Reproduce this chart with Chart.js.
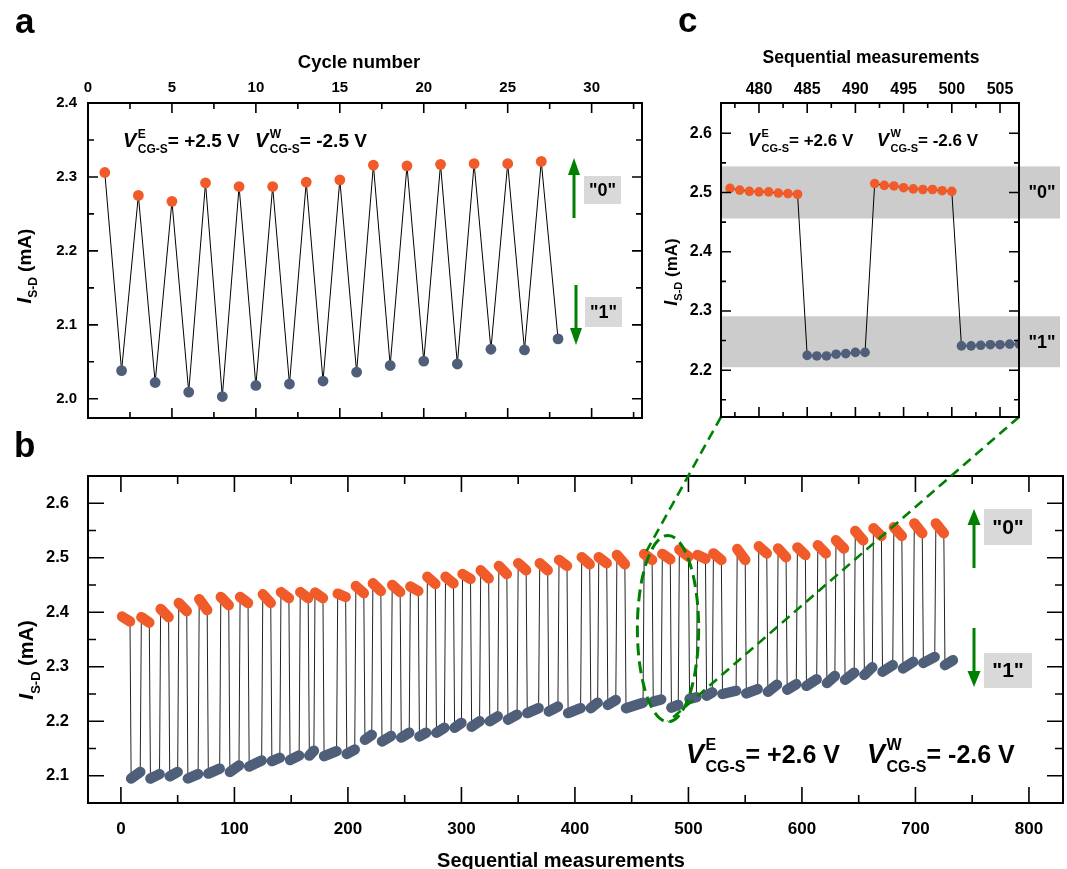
<!DOCTYPE html>
<html>
<head>
<meta charset="utf-8">
<script src="https://cdn.jsdelivr.net/npm/chart.js@4.4.0/dist/chart.umd.min.js"></script>
<style>
  html, body { margin: 0; padding: 0; background: #fff; }
  #wrap { position: relative; width: 1067px; height: 869px; }
  canvas { position: absolute; }
</style>
</head>
<body>
<div id="wrap">
  <canvas id="chartB" width="1067" height="869" style="left:0;top:0"></canvas>
  <canvas id="chartA" width="660" height="440" style="left:0;top:0"></canvas>
  <canvas id="chartC" width="422" height="440" style="left:645px;top:0"></canvas>
</div>
<script>
// ---- panel a : one point per half cycle ("0" on odd, "1" on even) ----
var cycleNo = [1, 2, 3, 4, 5, 6, 7, 8, 9, 10, 11, 12, 13, 14, 15, 16, 17, 18, 19, 20, 21, 22, 23, 24, 25, 26, 27, 28];
var cycleCurrent = [2.306, 2.038, 2.275, 2.022, 2.267, 2.009, 2.292, 2.003, 2.287, 2.018, 2.287, 2.020, 2.293, 2.024,
  2.296, 2.036, 2.316, 2.045, 2.315, 2.051, 2.317, 2.047, 2.318, 2.067, 2.318, 2.066, 2.321, 2.081];
var cycleTicks = [0, 5, 10, 15, 20, 25, 30];
var cycleYTicks = [2.0, 2.1, 2.2, 2.3, 2.4];

// ---- panel c : zoom of sequential measurements 477..507 ----
var zoomSeq = [477, 478, 479, 480, 481, 482, 483, 484, 485, 486, 487, 488, 489, 490, 491,
  492, 493, 494, 495, 496, 497, 498, 499, 500, 501, 502, 503, 504, 505, 506, 507];
var zoomCurrent = [2.507, 2.504, 2.502, 2.501, 2.501, 2.499, 2.498, 2.497,
  2.225, 2.224, 2.224, 2.227, 2.228, 2.230, 2.230,
  2.515, 2.512, 2.511, 2.508, 2.506, 2.505, 2.505, 2.503, 2.502,
  2.241, 2.241, 2.242, 2.243, 2.243, 2.244, 2.244];
var zoomTicks = [480, 485, 490, 495, 500, 505];
var zoomYTicks = [2.2, 2.3, 2.4, 2.5, 2.6];
var band0 = [2.456, 2.544];
var band1 = [2.205, 2.291];

// ---- panel b : each block of "0" reads followed by a block of "1" reads ----
var hiStart = [1, 18, 35, 51, 69, 88, 105, 125, 141, 158, 171, 191, 207, 222, 239, 255, 270, 286, 301, 317, 333, 350,
  369, 386, 406, 421, 437, 461, 477, 492, 508, 522, 543, 562, 579, 596, 614, 630, 647, 663, 681, 699, 718];
var loStart = [9, 26, 43, 59, 77, 96, 113, 133, 149, 166, 179, 199, 215, 230, 247, 263, 278, 294, 309, 325, 341, 358,
  377, 394, 414, 429, 445, 469, 485, 501, 516, 530, 551, 570, 587, 604, 622, 638, 655, 671, 689, 707, 726];
var hiFirst = [2.392, 2.391, 2.406, 2.417, 2.424, 2.428, 2.428, 2.433, 2.437, 2.437, 2.436, 2.434, 2.448, 2.453, 2.450,
  2.447, 2.465, 2.465, 2.470, 2.477, 2.485, 2.490, 2.490, 2.496, 2.501, 2.501, 2.505, 2.507, 2.507, 2.515, 2.505,
  2.508, 2.516, 2.521, 2.517, 2.519, 2.523, 2.532, 2.549, 2.554, 2.556, 2.563, 2.563];
var hiLast = [2.383, 2.381, 2.391, 2.402, 2.404, 2.413, 2.417, 2.417, 2.426, 2.426, 2.426, 2.428, 2.435, 2.439, 2.437,
  2.439, 2.452, 2.453, 2.461, 2.462, 2.470, 2.477, 2.477, 2.485, 2.488, 2.490, 2.488, 2.496, 2.497, 2.502, 2.498,
  2.496, 2.496, 2.508, 2.501, 2.505, 2.508, 2.517, 2.532, 2.540, 2.540, 2.545, 2.545];
var loFirst = [2.095, 2.095, 2.099, 2.095, 2.104, 2.107, 2.117, 2.127, 2.129, 2.137, 2.136, 2.140, 2.166, 2.163, 2.170,
  2.172, 2.179, 2.188, 2.190, 2.200, 2.203, 2.215, 2.218, 2.215, 2.224, 2.230, 2.224, 2.236, 2.225, 2.241, 2.247,
  2.250, 2.251, 2.254, 2.258, 2.265, 2.270, 2.276, 2.285, 2.291, 2.297, 2.307, 2.303];
var loLast = [2.107, 2.103, 2.107, 2.103, 2.113, 2.119, 2.128, 2.133, 2.137, 2.146, 2.145, 2.148, 2.175, 2.173, 2.179,
  2.179, 2.188, 2.197, 2.200, 2.209, 2.212, 2.224, 2.227, 2.224, 2.234, 2.239, 2.234, 2.240, 2.230, 2.244, 2.253,
  2.256, 2.259, 2.267, 2.268, 2.277, 2.283, 2.289, 2.299, 2.303, 2.309, 2.318, 2.312];
var seqTicks = [0, 100, 200, 300, 400, 500, 600, 700, 800];
var seqYTicks = [2.1, 2.2, 2.3, 2.4, 2.5, 2.6];
// region of panel b that is blown up in panel c
var zoomRegion = { x: 482, y: 2.37, rx: 27, ry: 0.171 };
var linkEnds = [{ x: 463, y: 2.512 }, { x: 482, y: 2.199 }];

var FF = "'Liberation Sans', Arial, sans-serif";
var ORANGE = '#f15a29';
var BLUE = '#4f5e79';
var GREEN = 'rgb(0,128,0)';
Chart.defaults.font.family = FF;
Chart.defaults.font.weight = 'bold';
Chart.defaults.color = '#000';

// frame + inward ticks on all four sides
function frameTicks(o) {
  return {
    id: 'frame',
    afterDatasetsDraw: function (chart) {
      var ctx = chart.ctx, a = chart.chartArea, sx = chart.scales.x, sy = chart.scales.y;
      ctx.save();
      ctx.strokeStyle = '#000';
      ctx.lineWidth = 1.6;
      ctx.beginPath();
      for (var v = o.x0; v <= o.x1 + 1e-9; v += o.xStep) {
        var major = Math.abs(v / o.xMajor - Math.round(v / o.xMajor)) < 1e-6;
        var len = major ? o.major : o.minor;
        var px = sx.getPixelForValue(v);
        ctx.moveTo(px, a.top); ctx.lineTo(px, a.top + len);
        ctx.moveTo(px, a.bottom); ctx.lineTo(px, a.bottom - len);
      }
      for (var w = o.y0; w <= o.y1 + 1e-9; w += o.yStep) {
        var majorY = Math.abs(w / o.yMajor - Math.round(w / o.yMajor)) < 1e-6;
        var lenY = majorY ? o.major : o.minor;
        var py = sy.getPixelForValue(w);
        ctx.moveTo(a.left, py); ctx.lineTo(a.left + lenY, py);
        ctx.moveTo(a.right, py); ctx.lineTo(a.right - lenY, py);
      }
      ctx.stroke();
      ctx.lineWidth = 2;
      ctx.strokeRect(a.left, a.top, a.right - a.left, a.bottom - a.top);
      ctx.restore();
    }
  };
}

// V^E_CG-S = ... style label
function drawV(ctx, x, base, sup, rest, s) {
  ctx.save();
  ctx.fillStyle = '#000';
  ctx.textAlign = 'left';
  ctx.textBaseline = 'alphabetic';
  ctx.font = 'italic bold ' + s.v + 'px ' + FF;
  ctx.fillText('V', x, base);
  var sx = x + ctx.measureText('V').width + s.gap;
  ctx.font = 'bold ' + s.small + 'px ' + FF;
  ctx.fillText(sup, sx, base - s.up);
  ctx.fillText('CG-S', sx, base + s.down);
  var after = sx + ctx.measureText('CG-S').width;
  ctx.font = 'bold ' + s.rest + 'px ' + FF;
  ctx.fillText(rest, after, base);
  ctx.restore();
}

// rotated I_S-D (mA) title
function drawIsd(ctx, bx, cy, s) {
  ctx.save();
  ctx.translate(bx, cy);
  ctx.rotate(-Math.PI / 2);
  ctx.fillStyle = '#000';
  ctx.textBaseline = 'alphabetic';
  ctx.textAlign = 'left';
  ctx.font = 'italic bold ' + s.i + 'px ' + FF;
  var wI = ctx.measureText('I').width;
  ctx.font = 'bold ' + s.small + 'px ' + FF;
  var wS = ctx.measureText('S-D').width;
  ctx.font = 'bold ' + s.rest + 'px ' + FF;
  var wR = ctx.measureText(' (mA)').width;
  var x = -(wI + wS + wR) / 2;
  ctx.font = 'italic bold ' + s.i + 'px ' + FF;
  ctx.fillText('I', x, 0);
  ctx.font = 'bold ' + s.small + 'px ' + FF;
  ctx.fillText('S-D', x + wI, s.down);
  ctx.font = 'bold ' + s.rest + 'px ' + FF;
  ctx.fillText(' (mA)', x + wI + wS, 0);
  ctx.restore();
}

function plainText(ctx, txt, x, y, size, align) {
  ctx.save();
  ctx.fillStyle = '#000';
  ctx.font = 'bold ' + size + 'px ' + FF;
  ctx.textAlign = align || 'center';
  ctx.textBaseline = 'alphabetic';
  ctx.fillText(txt, x, y);
  ctx.restore();
}

function arrow(ctx, x, tail, tip, head, half) {
  var dir = tip > tail ? 1 : -1;
  ctx.save();
  ctx.strokeStyle = GREEN;
  ctx.fillStyle = GREEN;
  ctx.lineWidth = 3;
  ctx.beginPath();
  ctx.moveTo(x, tail);
  ctx.lineTo(x, tip - dir * head * 0.7);
  ctx.stroke();
  ctx.beginPath();
  ctx.moveTo(x, tip);
  ctx.lineTo(x - half, tip - dir * head);
  ctx.lineTo(x + half, tip - dir * head);
  ctx.closePath();
  ctx.fill();
  ctx.restore();
}

function stateBox(ctx, x, y, w, h, txt, size) {
  ctx.save();
  ctx.fillStyle = '#d9d9d9';
  ctx.fillRect(x, y, w, h);
  ctx.fillStyle = '#000';
  ctx.font = 'bold ' + size + 'px ' + FF;
  ctx.textAlign = 'center';
  ctx.textBaseline = 'middle';
  ctx.fillText(txt, x + w / 2, y + h / 2 + 1);
  ctx.restore();
}

function setTicks(list) {
  return function (axis) { axis.ticks = list.map(function (v) { return { value: v }; }); };
}

var noGrid = { display: false, drawTicks: false };

// ================= panel a =================
var chartA = new Chart(document.getElementById('chartA'), {
  type: 'line',
  data: {
    datasets: [{
      data: cycleNo.map(function (c, i) { return { x: c, y: cycleCurrent[i] }; }),
      borderColor: '#000',
      borderWidth: 1,
      pointRadius: 5.4,
      pointBorderWidth: 0,
      pointBackgroundColor: function (ctx) { return ctx.dataIndex % 2 === 0 ? ORANGE : BLUE; }
    }]
  },
  options: {
    responsive: false,
    animation: false,
    events: [],
    layout: { padding: { left: 0, top: 0, right: 18, bottom: 22 } },
    plugins: { legend: { display: false }, tooltip: { enabled: false } },
    scales: {
      x: {
        type: 'linear', position: 'top', min: 0, max: 33,
        grid: noGrid, border: { display: false },
        afterBuildTicks: setTicks(cycleTicks),
        afterFit: function (s) { s.height = 103; },
        ticks: { autoSkip: false, maxRotation: 0, padding: 6, font: { size: 15, weight: 'bold' },
          callback: function (v) { return String(v); } }
      },
      y: {
        type: 'linear', min: 1.974, max: 2.4,
        grid: noGrid, border: { display: false },
        afterBuildTicks: setTicks(cycleYTicks),
        afterFit: function (s) { s.width = 88; },
        ticks: { autoSkip: false, padding: 11, font: { size: 15, weight: 'bold' },
          callback: function (v) { return v.toFixed(1); } }
      }
    }
  },
  plugins: [
    frameTicks({ x0: 0, x1: 32.5, xStep: 2.5, xMajor: 5, y0: 2.0, y1: 2.4, yStep: 0.05, yMajor: 0.1, major: 10, minor: 6 }),
    {
      id: 'textA',
      afterDraw: function (chart) {
        var ctx = chart.ctx;
        plainText(ctx, 'a', 15, 33, 35, 'left');
        plainText(ctx, 'Cycle number', 359, 68, 18.5);
        drawIsd(ctx, 31, 266, { i: 20, small: 12, rest: 19, down: 6 });
        drawV(ctx, 123, 147, 'E', '= +2.5 V', { v: 20, small: 12, rest: 19, gap: 1.5, up: 9.5, down: 6 });
        drawV(ctx, 255, 147, 'W', '= -2.5 V', { v: 20, small: 12, rest: 19, gap: 1.5, up: 9.5, down: 6 });
        arrow(ctx, 574, 218, 158, 17, 6);
        arrow(ctx, 576, 285, 345, 17, 6);
        stateBox(ctx, 584, 176, 37, 28, '"0"', 18);
        stateBox(ctx, 585, 297, 37, 30, '"1"', 18);
      }
    }
  ]
});

// ================= panel c =================
var OXC = 645;
var chartC = new Chart(document.getElementById('chartC'), {
  type: 'line',
  data: {
    datasets: [{
      data: zoomSeq.map(function (n, i) { return { x: n, y: zoomCurrent[i] }; }),
      borderColor: '#000',
      borderWidth: 1,
      pointRadius: 4.8,
      pointBorderWidth: 0,
      pointBackgroundColor: function (ctx) { return zoomCurrent[ctx.dataIndex] > 2.4 ? ORANGE : BLUE; }
    }]
  },
  options: {
    responsive: false,
    animation: false,
    events: [],
    layout: { padding: { left: 0, top: 0, right: 48, bottom: 23 } },
    plugins: { legend: { display: false }, tooltip: { enabled: false } },
    scales: {
      x: {
        type: 'linear', position: 'top', min: 476.06, max: 506.97,
        grid: noGrid, border: { display: false },
        afterBuildTicks: setTicks(zoomTicks),
        afterFit: function (s) { s.height = 103; },
        ticks: { autoSkip: false, maxRotation: 0, padding: 4, font: { size: 16, weight: 'bold' },
          callback: function (v) { return String(v); } }
      },
      y: {
        type: 'linear', min: 2.121, max: 2.651,
        grid: noGrid, border: { display: false },
        afterBuildTicks: setTicks(zoomYTicks),
        afterFit: function (s) { s.width = 721 - OXC; },
        ticks: { autoSkip: false, padding: 9, font: { size: 16, weight: 'bold' },
          callback: function (v) { return v.toFixed(1); } }
      }
    }
  },
  plugins: [
    {
      id: 'bands',
      beforeDatasetsDraw: function (chart) {
        var ctx = chart.ctx, a = chart.chartArea, sy = chart.scales.y;
        ctx.save();
        ctx.fillStyle = '#cccccc';
        [band0, band1].forEach(function (b) {
          var top = sy.getPixelForValue(b[1]), bot = sy.getPixelForValue(b[0]);
          ctx.fillRect(a.left, top, a.right - a.left + 41, bot - top);
        });
        ctx.restore();
      }
    },
    frameTicks({ x0: 477.5, x1: 505, xStep: 2.5, xMajor: 5, y0: 2.15, y1: 2.6, yStep: 0.05, yMajor: 0.1, major: 10, minor: 5 }),
    {
      id: 'textC',
      afterDraw: function (chart) {
        var ctx = chart.ctx, a = chart.chartArea, sy = chart.scales.y;
        var ox = -OXC;
        plainText(ctx, 'c', 678 + ox, 32, 35, 'left');
        plainText(ctx, 'Sequential measurements', 871 + ox, 63, 17.5);
        drawIsd(ctx, 677 + ox, 272, { i: 18, small: 11, rest: 17, down: 5 });
        drawV(ctx, 748 + ox, 146, 'E', '= +2.6 V', { v: 18, small: 11, rest: 17, gap: 1.5, up: 9, down: 6 });
        drawV(ctx, 877 + ox, 146, 'W', '= -2.6 V', { v: 18, small: 11, rest: 17, gap: 1.5, up: 9, down: 6 });
        ctx.save();
        ctx.fillStyle = '#000';
        ctx.font = 'bold 18px ' + FF;
        ctx.textAlign = 'center';
        ctx.textBaseline = 'middle';
        ctx.fillText('"0"', a.right + 23, sy.getPixelForValue((band0[0] + band0[1]) / 2) + 1);
        ctx.fillText('"1"', a.right + 23, sy.getPixelForValue((band1[0] + band1[1]) / 2) + 1);
        ctx.restore();
      }
    }
  ]
});

// ================= panel b =================
var segHi = [], segLo = [], seq = [];
for (var k = 0; k < hiStart.length; k++) {
  var hiEnd = loStart[k] - 1;
  var loEnd = k + 1 < hiStart.length ? hiStart[k + 1] - 1 : loStart[k] + 7;
  segHi.push({ x: hiStart[k], y: hiFirst[k] }, { x: hiEnd, y: hiLast[k] }, { x: hiEnd, y: null });
  segLo.push({ x: loStart[k], y: loFirst[k] }, { x: loEnd, y: loLast[k] }, { x: loEnd, y: null });
  seq.push({ x: hiStart[k], y: hiFirst[k] }, { x: hiEnd, y: hiLast[k] },
    { x: loStart[k], y: loFirst[k] }, { x: loEnd, y: loLast[k] });
}

var chartB = new Chart(document.getElementById('chartB'), {
  type: 'line',
  data: {
    datasets: [
      { data: segHi, borderColor: ORANGE, borderWidth: 10.5, borderCapStyle: 'round', pointRadius: 0, spanGaps: false, order: 1 },
      { data: segLo, borderColor: BLUE, borderWidth: 10.5, borderCapStyle: 'round', pointRadius: 0, spanGaps: false, order: 1 },
      { data: seq, borderColor: '#222', borderWidth: 1, pointRadius: 0, order: 2 }
    ]
  },
  options: {
    responsive: false,
    animation: false,
    events: [],
    layout: { padding: { left: 0, top: 476, right: 4, bottom: 0 } },
    plugins: { legend: { display: false }, tooltip: { enabled: false } },
    scales: {
      x: {
        type: 'linear', position: 'bottom', min: -29, max: 830,
        grid: noGrid, border: { display: false },
        afterBuildTicks: setTicks(seqTicks),
        afterFit: function (s) { s.height = 66; },
        ticks: { autoSkip: false, maxRotation: 0, padding: 16, font: { size: 17, weight: 'bold' },
          callback: function (v) { return String(v); } }
      },
      y: {
        type: 'linear', min: 2.05, max: 2.65,
        grid: noGrid, border: { display: false },
        afterBuildTicks: setTicks(seqYTicks),
        afterFit: function (s) { s.width = 88; },
        ticks: { autoSkip: false, padding: 19, font: { size: 16.5, weight: 'bold' },
          callback: function (v) { return v.toFixed(1); } }
      }
    }
  },
  plugins: [
    frameTicks({ x0: 0, x1: 800, xStep: 50, xMajor: 100, y0: 2.1, y1: 2.6, yStep: 0.05, yMajor: 0.1, major: 16, minor: 8 }),
    {
      id: 'textB',
      afterDraw: function (chart) {
        var ctx = chart.ctx, sx = chart.scales.x, sy = chart.scales.y;
        plainText(ctx, 'b', 14, 457, 35, 'left');
        plainText(ctx, 'Sequential measurements', 561, 867, 20);
        drawIsd(ctx, 33, 660, { i: 21, small: 13, rest: 20, down: 7 });
        drawV(ctx, 686, 763, 'E', '= +2.6 V', { v: 27, small: 16, rest: 25, gap: 1.5, up: 13, down: 9 });
        drawV(ctx, 867, 763, 'W', '= -2.6 V', { v: 27, small: 16, rest: 25, gap: 1.5, up: 13, down: 9 });
        arrow(ctx, 974, 568, 509, 16, 6.5);
        arrow(ctx, 974, 628, 687, 16, 6.5);
        stateBox(ctx, 984, 509, 48, 36, '"0"', 21);
        stateBox(ctx, 984, 653, 48, 35, '"1"', 21);

        // zoom ellipse and links to panel c
        var cx = sx.getPixelForValue(zoomRegion.x), cy = sy.getPixelForValue(zoomRegion.y);
        var rx = sx.getPixelForValue(zoomRegion.x + zoomRegion.rx) - cx;
        var ry = cy - sy.getPixelForValue(zoomRegion.y + zoomRegion.ry);
        var ca = chartC.chartArea, off = chartC.canvas.offsetLeft, offT = chartC.canvas.offsetTop;
        ctx.save();
        ctx.strokeStyle = GREEN;
        ctx.lineWidth = 3;
        ctx.setLineDash([12, 6]);
        ctx.beginPath();
        ctx.ellipse(cx, cy, rx, ry, 0, 0, Math.PI * 2);
        ctx.stroke();
        ctx.lineWidth = 2.6;
        ctx.setLineDash([10, 6]);
        ctx.beginPath();
        ctx.moveTo(off + ca.left, offT + ca.bottom);
        ctx.lineTo(sx.getPixelForValue(linkEnds[0].x), sy.getPixelForValue(linkEnds[0].y));
        ctx.moveTo(off + ca.right, offT + ca.bottom);
        ctx.lineTo(sx.getPixelForValue(linkEnds[1].x), sy.getPixelForValue(linkEnds[1].y));
        ctx.stroke();
        ctx.restore();
      }
    }
  ]
});
</script>
</body>
</html>
